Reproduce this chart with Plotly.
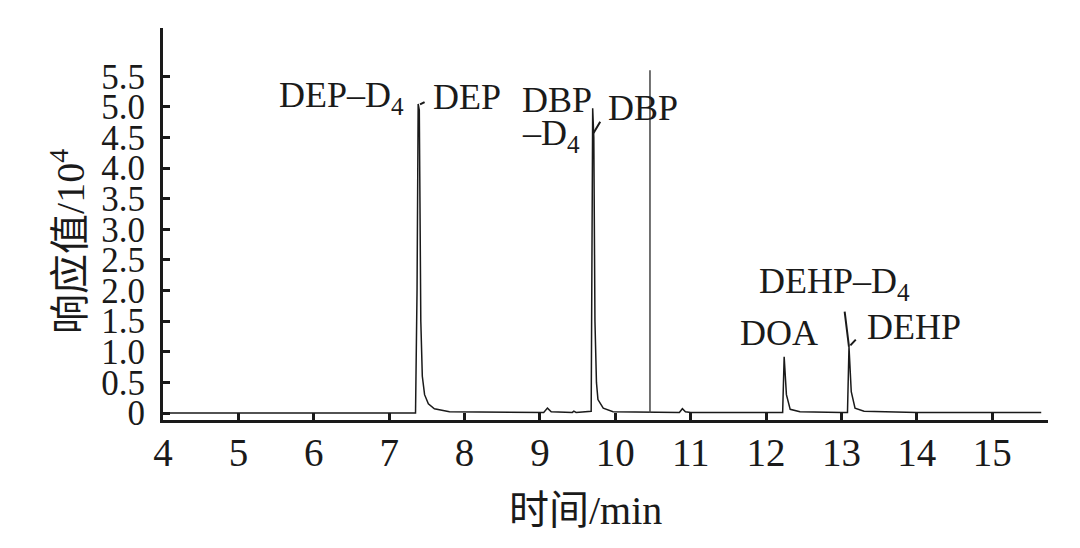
import plotly.graph_objects as go

# chromatogram (time in min, response in 10^4)
time = [4.0, 5.0, 6.0, 7.0, 7.35, 7.37, 7.385, 7.40, 7.42, 7.44, 7.47, 7.52, 7.6, 7.8, 8.5,
        9.05, 9.1, 9.15, 9.43, 9.45, 9.48, 9.68, 9.70, 9.715, 9.73, 9.75, 9.77, 9.84, 9.97,
        10.45, 10.85, 10.89, 10.93, 11.0, 12.0, 12.22, 12.24, 12.27, 12.32, 12.45, 13.0,
        13.08, 13.10, 13.13, 13.18, 13.3, 14.0, 15.0, 15.65]
signal = [0.0, 0.0, 0.0, 0.0, 0.0, 2.0, 5.05, 4.95, 1.5, 0.6, 0.3, 0.15, 0.07, 0.02, 0.01,
          0.01, 0.08, 0.02, 0.01, 0.03, 0.01, 0.03, 4.98, 4.5, 1.5, 0.5, 0.22, 0.08, 0.02,
          0.01, 0.01, 0.07, 0.02, 0.01, 0.01, 0.01, 0.92, 0.3, 0.06, 0.02, 0.01,
          0.01, 1.08, 0.35, 0.08, 0.03, 0.01, 0.01, 0.01]
marker_t = [10.46, 10.46]
marker_v = [0.0, 5.6]

x_ticks = [4, 5, 6, 7, 8, 9, 10, 11, 12, 13, 14, 15]
y_ticks = [0, 0.5, 1.0, 1.5, 2.0, 2.5, 3.0, 3.5, 4.0, 4.5, 5.0, 5.5]
y_tick_text = ["0", "0.5", "1.0", "1.5", "2.0", "2.5", "3.0", "3.5", "4.0", "4.5", "5.0", "5.5"]

labels = [
    ("DEP–D<sub>4</sub>", 7.22, 5.16, "right"),
    ("DEP", 7.55, 5.16, "left"),
    ("DBP", 8.74, 5.11, "left"),
    ("–D<sub>4</sub>", 8.74, 4.54, "left"),
    ("DBP", 9.87, 4.98, "left"),
    ("DEHP–D<sub>4</sub>", 11.88, 2.12, "left"),
    ("DOA", 11.63, 1.31, "left"),
    ("DEHP", 13.31, 1.41, "left"),
]
leaders = [
    (7.39, 5.03, 7.47, 5.08),
    (9.70, 4.55, 9.80, 4.76),
    (13.04, 1.68, 13.10, 1.08),
    (13.10, 1.08, 13.19, 1.20),
]

FONT = "Liberation Serif, Times New Roman, Noto Sans CJK SC, serif"
INK = "#1a1a1a"

fig = go.Figure()
fig.add_trace(go.Scatter(x=time, y=signal, mode="lines",
                         line=dict(color=INK, width=1.5), showlegend=False))
fig.add_trace(go.Scatter(x=marker_t, y=marker_v, mode="lines",
                         line=dict(color="#444444", width=1.5), showlegend=False))

for text, x, y, anchor in labels:
    fig.add_annotation(x=x, y=y, text=text, showarrow=False, xanchor=anchor,
                       yanchor="middle", font=dict(family=FONT, size=36, color=INK))
for x0, y0, x1, y1 in leaders:
    fig.add_annotation(x=x1, y=y1, ax=x0, ay=y0, xref="x", yref="y", axref="x", ayref="y",
                       text="", showarrow=True, arrowhead=0, arrowwidth=2, arrowcolor=INK)

fig.add_annotation(x=-0.107, y=0.455, xref="paper", yref="paper", text="响应值/10<sup>4</sup>",
                   textangle=-90, showarrow=False, xanchor="center", yanchor="middle",
                   font=dict(family=FONT, size=40, color=INK))
fig.add_annotation(x=0.477, y=-0.23, xref="paper", yref="paper", text="时间/min",
                   showarrow=False, xanchor="center", yanchor="middle",
                   font=dict(family=FONT, size=40, color=INK))

# the page body adds an 8px offset, so margins are set to compensate
fig.update_layout(
    width=1080, height=548,
    margin=dict(l=155, r=40, t=20, b=136),
    paper_bgcolor="white", plot_bgcolor="white",
    font=dict(family=FONT, size=34, color=INK),
)
fig.update_xaxes(range=[4, 15.74], tickvals=x_ticks, ticks="inside", ticklen=7, tickwidth=3,
                 tickcolor=INK, showline=True, linewidth=3, linecolor=INK,
                 showgrid=False, zeroline=False, automargin=False,
                 ticklabelstandoff=-4, tickfont=dict(family=FONT, size=39))
fig.update_yaxes(range=[-0.114, 6.29], tickvals=y_ticks, ticktext=y_tick_text, ticks="inside",
                 ticklen=7, tickwidth=3, tickcolor=INK, showline=True, linewidth=3,
                 linecolor=INK, showgrid=False, zeroline=False, automargin=False,
                 ticklabelstandoff=8, tickfont=dict(family=FONT, size=35))

fig.write_html("out.html")
